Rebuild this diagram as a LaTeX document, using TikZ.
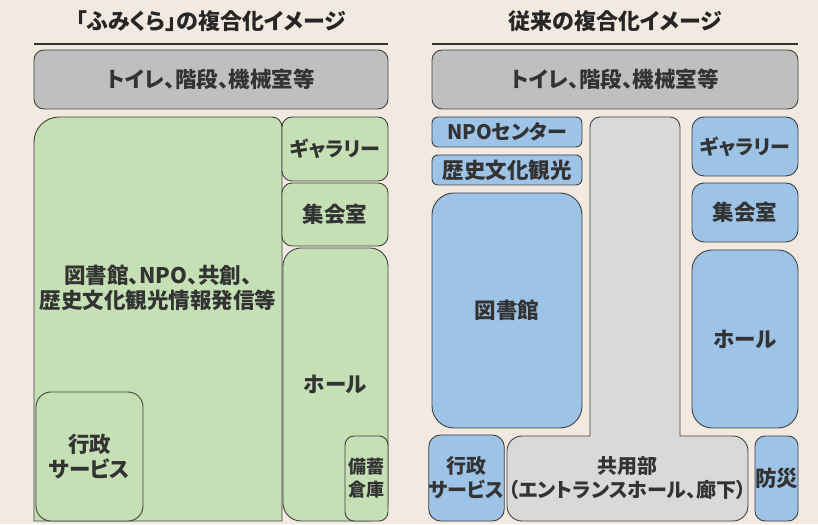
\documentclass[tikz,border=0pt]{standalone}
\usepackage{fontspec}
\newfontfamily\jp{Noto Sans CJK JP}[RawFeature=+palt]
\definecolor{bgc}{HTML}{F2EAE0}
\definecolor{grn}{HTML}{C5E0B4}
\definecolor{blu}{HTML}{9DC3E6}
\definecolor{gry}{HTML}{BFBFBF}
\definecolor{lgry}{HTML}{D9D9D9}
\definecolor{edge}{HTML}{404040}
\definecolor{txt}{HTML}{333333}
\tikzset{
  room/.style={draw=edge, line width=0.9pt, rectangle, inner sep=0pt, align=center,
    font=\jp\bfseries\fontsize{20}{24}\selectfont, text=txt},
  big/.style={font=\jp\bfseries\fontsize{21.5}{25}\selectfont},
  gbox/.style={room, big, fill=gry, rounded corners=10pt},
  green/.style={room, fill=grn},
  blue/.style={room, fill=blu},
  lbl/.style={inner sep=0pt, align=center, font=\jp\bfseries\fontsize{20}{24}\selectfont, text=txt},
  ttl/.style={inner sep=0pt, font=\jp\bfseries\fontsize{22}{26}\selectfont, text=black!85},
  rule/.style={line width=2.2pt, draw=black!80},
}
\begin{document}
\begin{tikzpicture}[x=1pt,y=1pt]
\fill[bgc] (0,0) rectangle (818,524);
\useasboundingbox (0,0) rectangle (818,524);

% ---------- left ----------
\node[ttl] (tl) at (211,503) {「ふみくら」の複合化イメージ};
\coordinate (rl1) at (34,480); \coordinate (rl2) at (388,480);
\draw[rule] (rl1) -- (rl2);
\node[gbox, minimum width=354pt, minimum height=59pt] (wcl) at (211,444.5) {トイレ、階段、機械室等};

\draw[draw=edge, line width=0.9pt, fill=grn]
  (34,3) -- (34,382) arc[start angle=180,end angle=90,radius=25]
  -- (272,407) arc[start angle=90,end angle=0,radius=10] -- (282,3) -- cycle;
\node[lbl, big] (libl) at (158,236) {図書館、NPO、共創、\\歴史文化観光情報発信等};

\node[green, big, rounded corners=15pt, minimum width=107pt, minimum height=129pt] (gyl) at (89.5,67.5) {行政\\サービス};
\node[green, rounded corners=10pt, minimum width=106pt, minimum height=64pt] (gall) at (335,375) {ギャラリー};
\node[green, big, rounded corners=10pt, minimum width=106pt, minimum height=63pt] (mtl) at (335,309.5) {集会室};
\node[green, big, rounded corners=18pt, minimum width=105pt, minimum height=273pt] (hall) at (335.5,139.5) {ホール};
\node[green, rounded corners=9pt, minimum width=43pt, minimum height=85pt,
  font=\jp\bfseries\fontsize{18}{23}\selectfont] (stl) at (366.5,45.5) {備蓄\\倉庫};

% ---------- right ----------
\node[ttl] (tr) at (615,503) {従来の複合化イメージ};
\coordinate (rr1) at (432,480); \coordinate (rr2) at (798,480);
\draw[rule] (rr1) -- (rr2);
\node[gbox, minimum width=366pt, minimum height=59pt] (wcr) at (615,444.5) {トイレ、階段、機械室等};

\node[blue, rounded corners=6pt, minimum width=150pt, minimum height=30pt] (npo) at (507,392) {NPOセンター};
\node[blue, big, rounded corners=6pt, minimum width=150pt, minimum height=30pt] (his) at (507,354) {歴史文化観光};
\node[blue, big, rounded corners=22pt, minimum width=150pt, minimum height=235pt] (lib) at (507,213.5) {図書館};

\draw[draw=edge, line width=0.9pt, fill=lgry]
  (590,88) -- (590,397) arc[start angle=180,end angle=90,radius=10]
  -- (670,407) arc[start angle=90,end angle=0,radius=10]
  -- (680,88) -- (733,88) arc[start angle=90,end angle=0,radius=15]
  -- (748,18) arc[start angle=0,end angle=-90,radius=15]
  -- (522,3) arc[start angle=270,end angle=180,radius=15]
  -- (507,73) arc[start angle=180,end angle=90,radius=15] -- cycle;
\node[lbl] (com) at (627.5,46) {共用部\\（エントランスホール、廊下）};

\node[blue, rounded corners=12pt, minimum width=106pt, minimum height=59pt] (galr) at (745,377.5) {ギャラリー};
\node[blue, big, rounded corners=12pt, minimum width=106pt, minimum height=59pt] (mtr) at (745,311.5) {集会室};
\node[blue, big, rounded corners=20pt, minimum width=106pt, minimum height=178pt] (halr) at (745,185) {ホール};
\node[blue, rounded corners=12pt, minimum width=69pt, minimum height=86pt] (gyr) at (466.5,46) {行政\\サービス};
\node[blue, big, rounded corners=10pt, minimum width=43pt, minimum height=85pt] (bos) at (776.5,45.5) {防災};
\end{tikzpicture}
\end{document}
